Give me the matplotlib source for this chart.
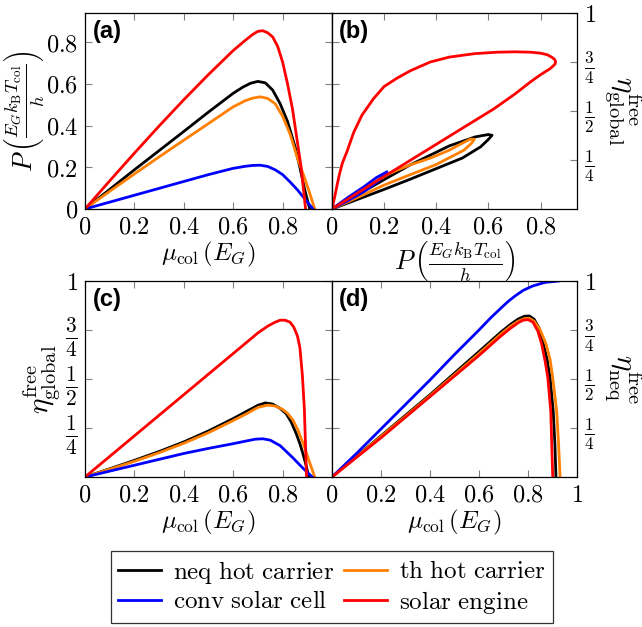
import numpy as np
import matplotlib
matplotlib.use('Agg')
import matplotlib.pyplot as plt

plt.rcParams['mathtext.fontset'] = 'cm'
plt.rcParams['font.family'] = ['DejaVu Serif']

# colours of the four models
c_neq = 'black'
c_th = '#ff8000'
c_conv = '#0000ff'
c_eng = '#ff0000'

# ---- (a) power vs mu_col ----
mu_a_neq = [0, 0.1, 0.2, 0.3, 0.4, 0.5, 0.6, 0.64, 0.67, 0.7, 0.73, 0.76, 0.79, 0.82, 0.85, 0.87, 0.89, 0.91]
P_neq = [0, 0.094, 0.188, 0.28, 0.372, 0.465, 0.555, 0.585, 0.603, 0.612, 0.605, 0.57, 0.505, 0.42, 0.3, 0.2, 0.09, 0.0]
mu_a_th = [0, 0.1, 0.2, 0.3, 0.4, 0.5, 0.6, 0.65, 0.68, 0.71, 0.74, 0.77, 0.8, 0.83, 0.86, 0.89, 0.91, 0.93]
P_th = [0, 0.085, 0.168, 0.25, 0.33, 0.41, 0.49, 0.52, 0.532, 0.538, 0.53, 0.505, 0.445, 0.36, 0.245, 0.145, 0.075, 0.0]
mu_a_conv = [0, 0.1, 0.2, 0.3, 0.4, 0.5, 0.6, 0.65, 0.68, 0.71, 0.74, 0.77, 0.8, 0.83, 0.86, 0.89, 0.923]
P_conv = [0, 0.033, 0.066, 0.099, 0.132, 0.165, 0.195, 0.205, 0.209, 0.21, 0.204, 0.188, 0.165, 0.13, 0.092, 0.048, 0.0]
mu_a_eng = [0, 0.1, 0.2, 0.3, 0.4, 0.5, 0.6, 0.65, 0.68, 0.7, 0.72, 0.74, 0.76, 0.78, 0.8, 0.82, 0.84, 0.86, 0.875, 0.893]
P_eng = [0, 0.135, 0.268, 0.398, 0.524, 0.645, 0.76, 0.81, 0.838, 0.852, 0.855, 0.845, 0.825, 0.78, 0.705, 0.6, 0.48, 0.32, 0.2, 0.0]

# ---- (b) efficiency vs power ----
Pb_neq = [0, 0.1, 0.2, 0.3, 0.4, 0.5, 0.57, 0.6, 0.614, 0.6, 0.55, 0.45, 0.3, 0.15, 0]
eb_neq = [0, 0.05, 0.1, 0.152, 0.206, 0.26, 0.317, 0.355, 0.376, 0.38, 0.368, 0.322, 0.225, 0.112, 0]
Pb_th = [0, 0.1, 0.198, 0.3, 0.4, 0.506, 0.535, 0.546, 0.53, 0.506, 0.45, 0.378, 0.3, 0.25, 0.21, 0.1, 0]
eb_th = [0, 0.06, 0.121, 0.175, 0.227, 0.3, 0.335, 0.356, 0.356, 0.34, 0.3, 0.26, 0.225, 0.198, 0.175, 0.085, 0]
Pb_conv = [0, 0.06, 0.122, 0.18, 0.211, 0.17, 0.122, 0.06, 0]
eb_conv = [0, 0.042, 0.088, 0.145, 0.19, 0.16, 0.113, 0.058, 0]
Pb_eng = [0, 0.1, 0.2, 0.3, 0.4, 0.5, 0.62, 0.7, 0.762, 0.8, 0.838, 0.855, 0.858, 0.855, 0.845,
          0.826, 0.8, 0.762, 0.7, 0.634, 0.55, 0.505, 0.45, 0.377, 0.3, 0.25, 0.2, 0.16, 0.115,
          0.083, 0.058, 0.04, 0.03, 0.02, 0.01, 0]
eb_eng = [0, 0.083, 0.166, 0.248, 0.33, 0.412, 0.51, 0.585, 0.649, 0.685, 0.717, 0.738, 0.75, 0.762, 0.773,
          0.787, 0.795, 0.8, 0.802, 0.8, 0.793, 0.785, 0.775, 0.75, 0.705, 0.668, 0.625, 0.564, 0.479,
          0.39, 0.295, 0.235, 0.185, 0.125, 0.06, 0]

# ---- (c) global efficiency vs mu_col ----
mu_c_neq = [0, 0.1, 0.2, 0.3, 0.4, 0.5, 0.6, 0.65, 0.7, 0.73, 0.76, 0.79, 0.815, 0.835, 0.855, 0.87, 0.882, 0.895, 0.906]
ec_neq = [0, 0.042, 0.085, 0.13, 0.179, 0.235, 0.298, 0.332, 0.366, 0.378, 0.372, 0.35, 0.322, 0.28, 0.222, 0.17, 0.12, 0.06, 0.0]
mu_c_th = [0, 0.1, 0.2, 0.3, 0.4, 0.5, 0.6, 0.65, 0.7, 0.74, 0.77, 0.8, 0.82, 0.842, 0.862, 0.882, 0.905, 0.93]
ec_th = [0, 0.04, 0.08, 0.124, 0.172, 0.226, 0.288, 0.32, 0.355, 0.367, 0.362, 0.345, 0.325, 0.29, 0.24, 0.175, 0.09, 0.0]
mu_c_conv = [0, 0.1, 0.2, 0.3, 0.4, 0.5, 0.6, 0.65, 0.69, 0.72, 0.75, 0.79, 0.84, 0.88, 0.92]
ec_conv = [0, 0.03, 0.06, 0.09, 0.12, 0.146, 0.17, 0.183, 0.193, 0.195, 0.188, 0.16, 0.1, 0.048, 0.0]
mu_c_eng = [0, 0.1, 0.2, 0.3, 0.4, 0.5, 0.6, 0.7, 0.74, 0.77, 0.79, 0.81, 0.83, 0.845, 0.86, 0.87, 0.88, 0.888, 0.893, 0.897]
ec_eng = [0, 0.105, 0.21, 0.315, 0.42, 0.525, 0.63, 0.735, 0.77, 0.79, 0.80, 0.80, 0.79, 0.765, 0.72, 0.66, 0.52, 0.35, 0.15, 0.0]

# ---- (d) neq efficiency vs mu_col ----
mu_d_neq = [0, 0.1, 0.2, 0.3, 0.4, 0.5, 0.6, 0.69, 0.73, 0.76, 0.785, 0.805, 0.825, 0.845, 0.863, 0.878, 0.89, 0.903, 0.91, 0.914]
ed_neq = [0, 0.105, 0.21, 0.315, 0.42, 0.53, 0.64, 0.74, 0.78, 0.806, 0.82, 0.822, 0.805, 0.76, 0.677, 0.6, 0.506, 0.335, 0.164, 0.0]
mu_d_th = [0, 0.1, 0.2, 0.3, 0.4, 0.5, 0.6, 0.69, 0.73, 0.76, 0.785, 0.805, 0.825, 0.85, 0.874, 0.89, 0.901, 0.917, 0.925, 0.931]
ed_th = [0, 0.103, 0.207, 0.31, 0.415, 0.522, 0.63, 0.73, 0.77, 0.795, 0.808, 0.81, 0.795, 0.75, 0.677, 0.6, 0.506, 0.335, 0.164, 0.0]
mu_d_conv = [0, 0.1, 0.2, 0.3, 0.4, 0.5, 0.6, 0.65, 0.69, 0.72, 0.75, 0.78, 0.82, 0.87, 0.925]
ed_conv = [0, 0.12, 0.245, 0.37, 0.495, 0.625, 0.75, 0.815, 0.862, 0.897, 0.926, 0.952, 0.975, 0.993, 1.0]
mu_d_eng = [0, 0.1, 0.2, 0.3, 0.4, 0.5, 0.6, 0.69, 0.73, 0.76, 0.78, 0.8, 0.82, 0.84, 0.856, 0.87, 0.881, 0.893, 0.897, 0.901]
ed_eng = [0, 0.1, 0.2, 0.305, 0.41, 0.515, 0.62, 0.72, 0.76, 0.787, 0.8, 0.803, 0.79, 0.745, 0.677, 0.59, 0.506, 0.335, 0.164, 0.0]

labels = [r'$\mathrm{neq\ hot\ carrier}$', r'$\mathrm{th\ hot\ carrier}$',
          r'$\mathrm{conv\ solar\ cell}$', r'$\mathrm{solar\ engine}$']

PMAX = 0.94
FS_T = 17.5
FS_L = 18
LW = 2.0
tick_col = '#808080'

mu_lab = r'$\mu_{\mathrm{col}}\,(E_G)$'
P_lab = r'$P\,\left(\frac{E_G k_\mathrm{B} T_\mathrm{col}}{h}\right)$'
frac_ticks = [0.25, 0.5, 0.75, 1.0]
frac_labels = [r'$\frac{1}{4}$', r'$\frac{1}{2}$', r'$\frac{3}{4}$', r'$1$']
x_ticks = [0, 0.2, 0.4, 0.6, 0.8]
x_labels = [r'$0$', r'$0.2$', r'$0.4$', r'$0.6$', r'$0.8$']

fig = plt.figure(figsize=(6.42, 6.27), dpi=100)
W, H = 642.0, 627.0
ax_a = fig.add_axes([85 / W, 1 - 209 / H, 247 / W, 196 / H])
ax_b = fig.add_axes([332 / W, 1 - 209 / H, 245 / W, 196 / H])
ax_c = fig.add_axes([85 / W, 1 - 477 / H, 247 / W, 196 / H])
ax_d = fig.add_axes([332 / W, 1 - 477 / H, 245 / W, 196 / H])


def style(ax):
    ax.tick_params(direction='in', length=5, width=0.8, color=tick_col,
                   top=True, right=True, labelsize=FS_T, pad=5)
    for s in ax.spines.values():
        s.set_linewidth(0.9)


def set_frac_labels(ax):
    ax.set_yticks(frac_ticks)
    txts = ax.set_yticklabels(frac_labels)
    for t in txts[:3]:
        t.set_fontsize(22)


# (a)
ax_a.plot(mu_a_neq, P_neq, color=c_neq, lw=LW)
ax_a.plot(mu_a_th, P_th, color=c_th, lw=LW)
ax_a.plot(mu_a_conv, P_conv, color=c_conv, lw=LW)
ax_a.plot(mu_a_eng, P_eng, color=c_eng, lw=LW)
ax_a.set_xlim(0, 1)
ax_a.set_ylim(0, PMAX)
ax_a.set_xticks(x_ticks)
ax_a.set_xticklabels(x_labels)
ax_a.set_yticks([0, 0.2, 0.4, 0.6, 0.8])
ax_a.set_yticklabels([r'$0$', r'$0.2$', r'$0.4$', r'$0.6$', r'$0.8$'])
ax_a.set_xlabel(mu_lab, fontsize=FS_L, labelpad=1)
ax_a.set_ylabel(P_lab, fontsize=19, labelpad=0)
style(ax_a)

# (b)
ax_b.plot(Pb_neq, eb_neq, color=c_neq, lw=LW)
ax_b.plot(Pb_th, eb_th, color=c_th, lw=LW)
ax_b.plot(Pb_conv, eb_conv, color=c_conv, lw=LW)
ax_b.plot(Pb_eng, eb_eng, color=c_eng, lw=LW)
ax_b.set_xlim(0, PMAX)
ax_b.set_ylim(0, 1)
ax_b.set_xticks(x_ticks)
ax_b.set_xticklabels(x_labels)
style(ax_b)
set_frac_labels(ax_b)
ax_b.tick_params(labelleft=False, labelright=True, left=False)
sec = ax_b.secondary_yaxis('left', functions=(lambda e: e * PMAX, lambda p: p / PMAX))
sec.set_yticks([0.2, 0.4, 0.6, 0.8])
sec.tick_params(direction='in', length=5, width=0.8, color=tick_col, labelleft=False)
ax_b.set_xlabel(P_lab, fontsize=19, labelpad=0)
ax_b.yaxis.set_label_position('right')
ax_b.set_ylabel(r'$\eta^{\mathrm{free}}_{\mathrm{global}}$', fontsize=21, rotation=-90,
                va='bottom', labelpad=4)

# (c)
ax_c.plot(mu_c_neq, ec_neq, color=c_neq, lw=LW)
ax_c.plot(mu_c_th, ec_th, color=c_th, lw=LW)
ax_c.plot(mu_c_conv, ec_conv, color=c_conv, lw=LW)
ax_c.plot(mu_c_eng, ec_eng, color=c_eng, lw=LW)
ax_c.set_xlim(0, 1)
ax_c.set_ylim(0, 1)
ax_c.set_xticks(x_ticks)
ax_c.set_xticklabels(x_labels)
style(ax_c)
set_frac_labels(ax_c)
ax_c.set_xlabel(mu_lab, fontsize=FS_L, labelpad=1)
ax_c.set_ylabel(r'$\eta^{\mathrm{free}}_{\mathrm{global}}$', fontsize=21, labelpad=2)

# (d)
ax_d.plot(mu_d_neq, ed_neq, color=c_neq, lw=LW, label=labels[0])
ax_d.plot(mu_d_th, ed_th, color=c_th, lw=LW, label=labels[1])
ax_d.plot(mu_d_conv, ed_conv, color=c_conv, lw=LW, label=labels[2])
ax_d.plot(mu_d_eng, ed_eng, color=c_eng, lw=LW, label=labels[3])
ax_d.set_xlim(0, 1)
ax_d.set_ylim(0, 1)
ax_d.set_xticks(x_ticks + [1.0])
ax_d.set_xticklabels(x_labels + [r'$1$'])
style(ax_d)
set_frac_labels(ax_d)
ax_d.tick_params(labelleft=False, labelright=True)
ax_d.set_xlabel(mu_lab, fontsize=FS_L, labelpad=1)
ax_d.yaxis.set_label_position('right')
ax_d.set_ylabel(r'$\eta^{\mathrm{free}}_{\mathrm{neq}}$', fontsize=21, rotation=-90,
                va='bottom', labelpad=4)

for ax, tag in zip([ax_a, ax_b, ax_c, ax_d], ['(a)', '(b)', '(c)', '(d)']):
    ax.text(0.03, 0.965, tag, transform=ax.transAxes, ha='left', va='top',
            fontsize=17, fontweight='bold', family='Liberation Sans')

h, l = ax_d.get_legend_handles_labels()
order = [0, 2, 1, 3]
leg = fig.legend([h[i] for i in order], [l[i] for i in order], loc='center',
                 bbox_to_anchor=(332 / W, 1 - 587 / H), ncol=2, fontsize=18,
                 frameon=True, fancybox=False, edgecolor='black', handlelength=1.7,
                 columnspacing=0.4, handletextpad=0.5, borderpad=0.3, labelspacing=0.2)
leg.get_frame().set_linewidth(0.9)

fig.savefig('out.png', dpi=100)
